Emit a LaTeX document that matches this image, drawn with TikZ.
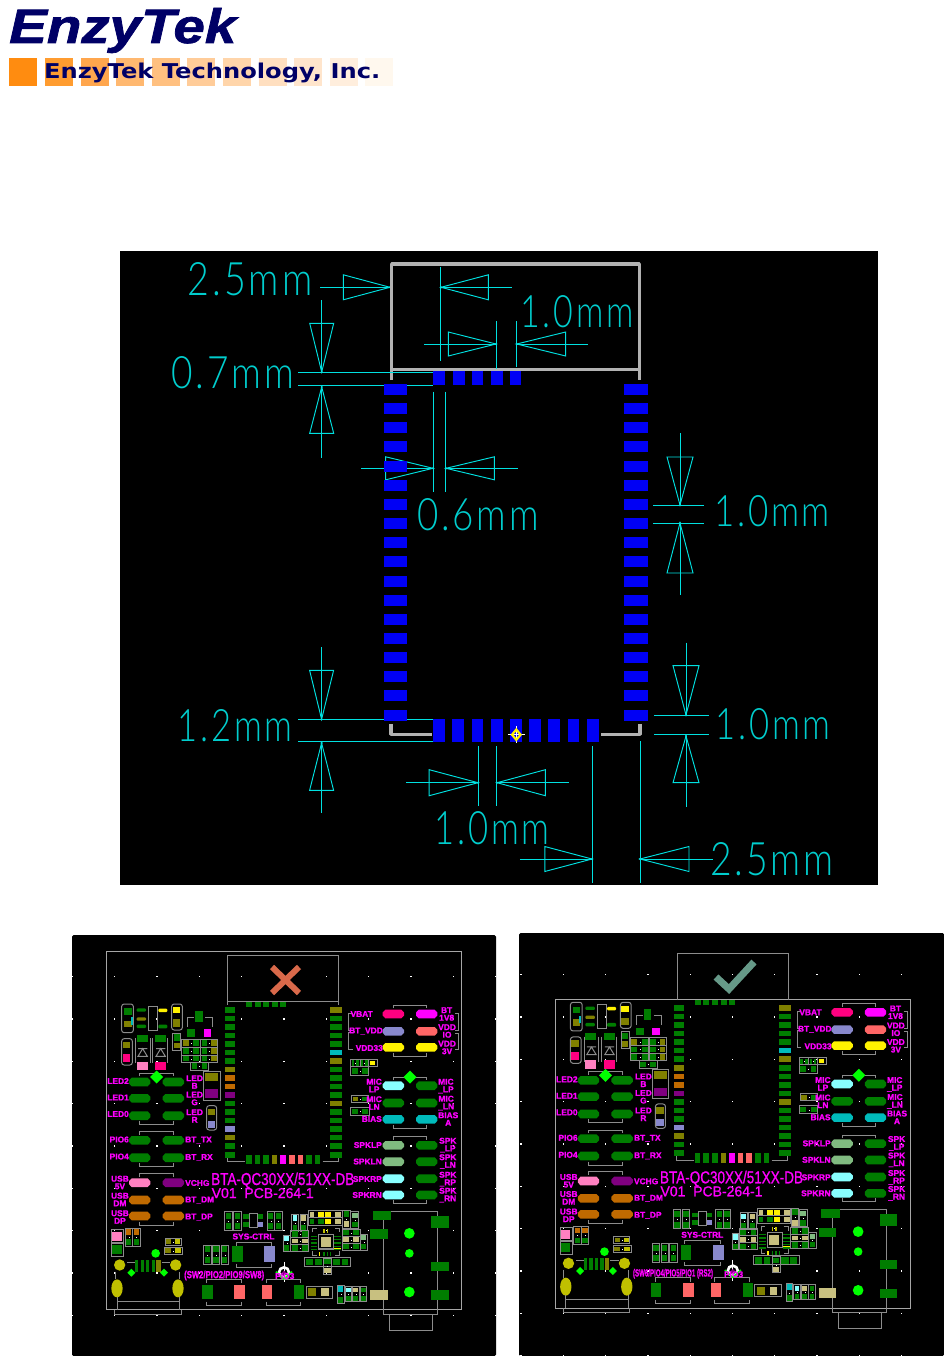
\documentclass[tikz,border=0pt]{standalone}
\usepackage{fontspec}
\usepackage{graphicx}
\setmainfont{Liberation Sans}
\newfontfamily\cadfont{Lato}[UprightFont=* Light,LetterSpace=8]
\newfontfamily\wide{DejaVu Sans}
\newfontfamily\labf{Liberation Sans}[UprightFont=* Bold,FakeBold=1.2]
\newfontfamily\titlef{Liberation Sans}[FakeBold=1.0]
\newfontfamily\logof{Liberation Sans}[UprightFont=* Bold Italic,FakeBold=1.4]
\definecolor{navy}{HTML}{000066}
\definecolor{cadc}{HTML}{00E0E0}
\definecolor{cadt}{HTML}{00CDCD}
\definecolor{padb}{HTML}{0000F5}
\definecolor{gr}{HTML}{007D00}
\definecolor{ol}{HTML}{808000}
\definecolor{org}{HTML}{C06A00}
\definecolor{pur}{HTML}{800080}
\definecolor{bb}{HTML}{8888CC}
\definecolor{cy}{HTML}{00BBBB}
\definecolor{lc}{HTML}{88FFFF}
\definecolor{hp}{HTML}{FF0080}
\definecolor{lp}{HTML}{FF80C0}
\definecolor{sal}{HTML}{FF6666}
\definecolor{tan1}{HTML}{C8C080}
\definecolor{lg}{HTML}{80BB80}
\definecolor{yo}{HTML}{C0C000}
\definecolor{bg}{HTML}{00FF00}
\definecolor{magenta}{HTML}{FF00FF}
\newcounter{lbn}
\tikzset{
  x=1pt,y=-1pt,
  cadl/.style={draw=cadc,line width=0.95pt},
  gl/.style={draw=black!45,line width=1pt},
  gl2/.style={draw=black!35,line width=1pt},
  lbs/.style={text=magenta,font=\fontsize{8.4}{7.6}\labf,inner sep=0pt,align=center},
  cadn/.style={text=cadt,inner sep=0pt}
}
% helpers
\newcommand{\pd}[5]{\fill[#1] (#2,#3) rectangle (#4,#5);}
\newcommand{\gb}[4]{\draw[gl] (#1,#2) rectangle (#3,#4);}
\newcommand{\brk}[4]{\draw[gl] (#1,#3+#4) -- (#1,#3) -- (#2,#3) -- (#2,#3+#4);}
\newcommand{\pl}[3]{\fill[#1] (#2-10.7,#3-1.5) -- (#2-8,#3-4.3) -- (#2+8,#3-4.3) -- (#2+10.7,#3-1.5) -- (#2+10.7,#3+1.5) -- (#2+8,#3+4.3) -- (#2-8,#3+4.3) -- (#2-10.7,#3+1.5) -- cycle;}
\newcommand{\cps}[4]{\draw[gl,rounded corners=2.5pt] (#1,#2) rectangle (#3,#4);}
\newcommand{\lb}[4]{\stepcounter{lbn}\node[lbs,anchor=#3] (lab\arabic{lbn}) at (#1,#2) {#4};}
\newcommand{\vres}[6]{\gb{#1}{#2}{#3}{#4}
  \pd{#5}{#1+3}{#2+3}{#3-3}{#2*0.62+#4*0.38}
  \pd{#6}{#1+3}{#2*0.38+#4*0.62}{#3-3}{#4-3}
  \fill[white] ({(#1+#3)/2-0.4},{(#2+#4)/2-0.4}) rectangle +(0.8,0.8);}
\newcommand{\hres}[6]{\gb{#1}{#2}{#3}{#4}
  \pd{#5}{#1+3}{#2+3}{#1*0.62+#3*0.38}{#4-3}
  \pd{#6}{#1*0.38+#3*0.62}{#2+3}{#3-3}{#4-3}
  \fill[white] ({(#1+#3)/2-0.4},{(#2+#4)/2-0.4}) rectangle +(0.8,0.8);}
\newcommand{\ha}[4]{\draw[cadl] (#1,#3) -- (#2,#3-#4) -- (#2,#3+#4) -- cycle; \fill[cadc] (#1,#3) circle (1.2);}
\newcommand{\va}[4]{\draw[cadl] (#3,#1) -- (#3-#4,#2) -- (#3+#4,#2) -- cycle; \fill[cadc] (#3,#1) circle (1.2);}
\newcommand{\oct}[4]{\fill[#1] (#2,#3) circle (#4);}
\newcommand{\dia}[4]{\fill[#1] (#2-#4,#3) -- (#2,#3-#4) -- (#2+#4,#3) -- (#2,#3+#4) -- cycle;}
% board contents in left-panel coordinates
\newcommand{\boardbody}[1]{%
  % module pads
  \foreach \c [count=\i from 0] in {gr,gr,gr,gr,gr,gr,gr,ol,org,org,pur,gr,gr,gr,bb,ol,gr,gr}
    {\pd{\c}{224.7}{1007+8.53*\i}{235}{1012.5+8.53*\i}}
  \foreach \c [count=\i from 0] in {ol,gr,gr,gr,gr,cy,ol,gr,gr,gr,gr,ol,gr,gr,gr,gr,gr,gr}
    {\pd{\c}{330.3}{1007+8.53*\i}{341.7}{1012.5+8.53*\i}}
  \foreach \c [count=\i from 0] in {gr,gr,gr,ol,magenta,sal,sal,gr,gr}
    {\pd{\c}{246+8.6*\i}{1155}{251.6+8.6*\i}{1164.3}}
  \foreach \i in {0,...,4} {\pd{gr}{246+8.6*\i}{1002}{252+8.6*\i}{1007}}
  \draw[gl] (227.3,1158) -- (227.3,1161.7) -- (245,1161.7);
  \draw[gl] (322.7,1161.7) -- (338.7,1161.7) -- (338.7,1158);
  % pill rows, left group
  \foreach \yy/\ca/\cb in {1082/gr/gr,1098.3/gr/gr,1115.7/gr/gr,1140.3/gr/gr,1157.7/gr/gr,1182.7/lp/pur,1200/org/org,1216/org/org}
    {\pl{\ca}{139.7}{\yy}\pl{\cb}{173.3}{\yy}}
  \brk{139.3}{173.3}{1073.3}{3}
  \brk{139.3}{173.3}{1124}{-3.3}
  \brk{139.3}{173.3}{1131.7}{3.3}
  \brk{139.3}{173.3}{1166.7}{-3.5}
  \brk{139.3}{173.3}{1173.3}{3.3}
  \brk{139.3}{173.3}{1225}{-3.3}
  \dia{bg}{156.7}{1077}{6.5}
  % pill rows, right group
  \foreach \yy/\ca/\cb in {1014/hp/magenta,1031.3/bb/sal,1047.3/yellow/yellow,1085.7/lc/gr,1103/gr/gr,1119.3/cy/cy,1145.3/lg/gr,1161.7/lg/gr,1178.7/lc/gr,1195/lc/gr}
    {\pl{\ca}{393.3}{\yy}\pl{\cb}{426.7}{\yy}}
  \brk{393.3}{426.7}{1005}{3.3}
  \brk{393.3}{426.7}{1056}{-3.3}
  \brk{393.3}{426.7}{1077}{3}
  \brk{393.3}{426.7}{1128.3}{-3.3}
  \brk{393.3}{426.7}{1136.7}{3.3}
  \brk{393.3}{426.7}{1203.3}{-3.5}
  \dia{bg}{410}{1077}{6.5}
  \draw[gl] (352.5,1013.5) -- (348.3,1013.5) -- (348.3,1030) -- (352.5,1030);
  \draw[gl] (352.5,1032.5) -- (348.3,1032.5) -- (348.3,1049) -- (352.5,1049);
  \draw[gl] (455,1013.5) -- (458.7,1013.5) -- (458.7,1030) -- (455,1030);
  \draw[gl] (455,1033.5) -- (458.7,1033.5) -- (458.7,1049) -- (455,1049);
  % upper-left parts (zoom frame)
  \begin{scope}[shift={(70,930)},scale=1/3]
    \cps{155}{222}{190}{308}
    \pd{gr}{162}{235}{185}{255} \pd{ol}{162}{272}{185}{292} \pd{cy}{182}{262}{188}{285}
    \foreach \yy/\cc in {240/gr,267/ol,289/gr}{\fill[\cc,rounded corners=1pt] (200,\yy-5) rectangle (228,\yy+5);}
    \gb{235}{228}{262}{300}
    \fill[yellow,rounded corners=1pt] (265,236) rectangle (292,246);
    \fill[gr,rounded corners=1pt] (265,284) rectangle (292,295);
    \cps{305}{222}{337}{300}
    \pd{yellow}{308}{232}{330}{250} \pd{ol}{308}{268}{330}{290}
    \cps{155}{326}{187}{405}
    \pd{ol}{158}{335}{181}{355} \pd{hp}{158}{372}{181}{395}
    \pd{gr}{200}{314}{233}{335} \pd{gr}{255}{314}{288}{335}
    \draw[gl] (197,325) -- (197,400) (240,325) -- (240,400) (247,325) -- (247,400) (292,325) -- (292,400);
    \foreach \cx in {218,272}{\draw[gl] (\cx-14,379) -- (\cx+14,379) -- (\cx,356) -- cycle (\cx-14,356) -- (\cx+14,356);}
    \pd{lp}{200}{395}{233}{421} \pd{hp}{256}{395}{289}{421}
    \gb{308}{310}{332}{360}
    \pd{gr}{311}{313}{329}{332} \pd{ol}{311}{338}{329}{355}
    \pd{gr}{375}{243}{398}{275}
    \draw[gl] (353,290) -- (353,262) -- (372,262) (405,262) -- (427,262) -- (427,290);
    \pd{gr}{352}{298}{375}{320} \pd{magenta}{401}{298}{424}{320}
    \hres{335}{328}{390}{352}{ol}{gr} \hres{392}{328}{443}{352}{gr}{ol}
    \hres{335}{352}{390}{375}{gr}{gr} \hres{392}{352}{443}{375}{gr}{ol}
    \hres{335}{375}{390}{397}{gr}{gr} \hres{392}{375}{443}{397}{gr}{ol}
    \hres{362}{397}{415}{420}{gr}{gr}
    \gb{401}{425}{450}{510}
    \pd{ol}{405}{428}{445}{452} \pd{pur}{405}{478}{445}{503}
    \cps{410}{527}{440}{600}
    \pd{ol}{413}{536}{436}{556} \pd{bb}{413}{573}{436}{593}
  \end{scope}
  % upper-right small parts
  \begin{scope}[shift={(280,930)},scale=1/3]
    \hres{212}{388}{240}{410}{gr}{gr}\hres{240}{388}{266}{410}{gr}{gr}
    \gb{266}{388}{292}{410}\pd{yellow}{271}{392}{286}{404}
    \hres{212}{410}{266}{435}{gr}{gr}
    \hres{215}{497}{265}{517}{ol}{gr}
    \hres{212}{533}{267}{555}{gr}{gr}
  \end{scope}
  % lower-left parts
  \begin{scope}[shift={(70,1140)},scale=1/3]
    \gb{125}{268}{160}{308}\pd{lp}{127}{275}{155}{302}
    \gb{125}{310}{160}{348}\pd{gr}{127}{315}{155}{342}
    \vres{165}{265}{187}{318}{org}{gr}\vres{188}{265}{210}{318}{org}{gr}
    \hres{285}{295}{333}{315}{ol}{yo}
    \hres{283}{322}{337}{342}{ol}{yo}
    \oct{bg}{257}{340}{13}
    \dia{bg}{184}{398}{12}\dia{bg}{282}{398}{12}
    \oct{yo}{149}{375}{17}\oct{yo}{317}{375}{17}
    \fill[yo] (141,445) ellipse (17 and 27);
    \fill[yo] (324,445) ellipse (17 and 27);
    \foreach \xa/\xb/\cc in {196/204/gr,212/222/gr,228/237/gr,245/255/gr,258/272/ol}{\pd{\cc}{\xa}{360}{\xb}{395}}
    \draw[gl] (172,368) -- (195,368) (275,368) -- (300,368) (135,395) -- (135,418) (328,395) -- (328,418);
    \draw[gl] (141,470) -- (141,510) (328,470) -- (328,510) (141,485) -- (328,485);
    \draw[gl] (133,510) -- (133,523) -- (333,523) -- (333,510);
  \end{scope}
  % centre parts
  \begin{scope}[shift={(180,1205)},scale=1/3]
    \vres{134}{20}{156}{76}{gr}{gr}\vres{161}{20}{183}{76}{gr}{gr}
    \pd{gr}{190}{28}{208}{42}\pd{gr}{232}{28}{250}{42}\pd{gr}{190}{50}{208}{66}\pd{bb}{232}{50}{250}{66}
    \gb{208}{25}{232}{68}
    \vres{261}{20}{283}{76}{gr}{gr}\vres{284}{20}{306}{76}{gr}{gr}
    \vres{71}{121}{93}{177}{gr}{gr}\vres{97}{121}{119}{177}{gr}{gr}\vres{123}{121}{145}{177}{gr}{gr}
    \pd{gr}{156}{124}{188}{170}\pd{bb}{253}{124}{285}{170}
    \brk{168}{275}{112}{10}\brk{168}{275}{186}{-10}
    \vres{335}{28}{355}{78}{lc}{gr}\vres{360}{28}{382}{78}{tan1}{gr}
    \vres{310}{90}{330}{140}{lc}{gr}
    \hres{332}{76}{386}{98}{gr}{gr}\hres{332}{98}{386}{118}{tan1}{tan1}\hres{332}{118}{386}{140}{gr}{gr}
    \gb{386}{15}{486}{38}\gb{386}{38}{486}{60}
    \foreach \xa/\xb/\ca/\cb in {390/402/tan1/gr,414/432/yellow/gr,436/454/yellow/yellow,465/483/tan1/tan1}
      {\pd{\ca}{\xa}{20}{\xb}{35}\pd{\cb}{\xa}{42}{\xb}{56}}
    \vres{488}{15}{510}{70}{gr}{tan1}\vres{512}{20}{536}{70}{lg}{gr}
    \hres{486}{72}{540}{94}{gr}{gr}\hres{486}{94}{540}{114}{tan1}{tan1}\hres{486}{114}{540}{136}{gr}{gr}
    \vres{540}{88}{562}{135}{lg}{gr}
    \draw[gl] (398,82) -- (398,70) -- (410,70) (465,70) -- (478,70) -- (478,82) (398,138) -- (398,150) -- (410,150) (465,150) -- (478,150) -- (478,138);
    \draw[gl,line width=1.2pt] (415,88) rectangle (460,132);
    \pd{tan1}{422}{95}{452}{125}
    \foreach \yy in {92,102,112,122,132}{\pd{gr}{392}{\yy}{412}{\yy+4}\pd{gr}{463}{\yy}{483}{\yy+4}}
    \pd{yellow}{463}{128}{483}{132}
    \foreach \xx/\cc in {430/yo,440/yo}{\pd{\cc}{\xx}{72}{\xx+4}{84}}
    \foreach \xx/\cc in {416/yellow,430/gr,440/gr,450/gr}{\pd{\cc}{\xx}{142}{\xx+4}{154}}
    \gb{373}{158}{512}{185}
    \pd{gr}{378}{162}{400}{181}\pd{gr}{405}{162}{425}{181}\pd{gr}{458}{162}{480}{181}\pd{gr}{485}{162}{505}{181}
    \vres{430}{160}{455}{208}{gr}{tan1}
    \pd{gr}{67}{240}{98}{282}\pd{sal}{163}{240}{195}{282}\pd{sal}{246}{240}{276}{282}\pd{gr}{343}{240}{373}{282}
    \brk{80}{185}{223}{12}\brk{80}{185}{302}{-12}
    \brk{258}{362}{223}{12}\brk{258}{362}{302}{-12}
    \gb{378}{243}{458}{281}
    \pd{ol}{384}{250}{408}{274}\pd{tan1}{424}{250}{446}{274}
    \vres{472}{240}{492}{296}{cy}{gr}\vres{495}{245}{515}{290}{lc}{gr}
    \vres{517}{245}{538}{290}{tan1}{gr}\vres{540}{245}{560}{290}{gr}{gr}
    \draw[white,line width=0.8pt] (312,170) -- (312,232);
    \draw[white,line width=2.6pt] (312,202) circle (15);
    \dia{pur}{312}{204}{7}
    \draw[bg,line width=1.6pt] (288,200) -- (312,222) -- (336,200);
  \end{scope}
  % jack
  \begin{scope}[shift={(280,1140)},scale=1/3]
    \gb{310}{215}{472}{523}
    \gb{328}{523}{457}{572}
    \pd{gr}{278}{212}{333}{240}\pd{gr}{270}{268}{323}{297}
    \pd{gr}{454}{228}{506}{263}\pd{gr}{454}{365}{506}{393}\pd{gr}{454}{451}{506}{480}
    \pd{tan1}{270}{450}{323}{480}
    \oct{bg}{388}{280}{16}\oct{bg}{388}{340}{13}\oct{bg}{388}{456}{16}
  \end{scope}
  % labels
  \lb{129}{1081}{east}{LED2}\lb{129}{1097.5}{east}{LED1}\lb{129}{1114}{east}{LED0}
  \lb{129}{1139.5}{east}{PIO6}\lb{129}{1156.5}{east}{PIO4}
  \lb{129}{1182.5}{east}{USB\\5V}\lb{129}{1199.5}{east}{USB\\DM}\lb{129}{1217}{east}{USB\\DP}
  \lb{185}{1140}{west}{BT\_TX}\lb{185}{1157.5}{west}{BT\_RX}\lb{185}{1183}{west}{VCHG}
  \lb{185}{1200}{west}{BT\_DM}\lb{185}{1217}{west}{BT\_DP}
  \lb{186}{1082}{west}{LED\\B}\lb{186}{1098.5}{west}{LED\\G}\lb{186}{1116}{west}{LED\\R}
  \lb{373}{1014}{east}{VBAT}\lb{383}{1031}{east}{BT\_VDD}\lb{383}{1048}{east}{VDD33}
  \lb{439}{1014}{west}{BT\\1V8}\lb{438}{1031}{west}{VDD\\IO}\lb{438}{1047.5}{west}{VDD\\3V}
  \lb{382}{1085.5}{east}{MIC\\LP}\lb{382}{1103}{east}{MIC\\LN}\lb{382}{1119}{east}{BIAS}
  \lb{438}{1086}{west}{MIC\\\_LP}\lb{438}{1103}{west}{MIC\\\_LN}\lb{438}{1119}{west}{BIAS\\A}
  \lb{382}{1145}{east}{SPKLP}\lb{382}{1161.5}{east}{SPKLN}\lb{382}{1179}{east}{SPKRP}\lb{382}{1195}{east}{SPKRN}
  \lb{439}{1145}{west}{SPK\\\_LP}\lb{439}{1161.5}{west}{SPK\\\_LN}\lb{439}{1179}{west}{SPK\\\_RP}\lb{439}{1195}{west}{SPK\\\_RN}
  \lb{253.5}{1236.5}{center}{SYS-CTRL}
  \lb{184}{1275.5}{west}{\resizebox{80pt}{7.5pt}{#1}}
  \lb{275}{1276}{west}{PIO3}
  \lb{211}{1185}{base west}{\resizebox{143pt}{12.5pt}{\titlef BTA-QC30XX/51XX-DB}}
  \lb{211.5}{1198}{base west}{\resizebox{102pt}{10pt}{\titlef V01\ \ PCB-264-1}}
}
\begin{document}
\begin{tikzpicture}
\useasboundingbox (0,0) rectangle (944,1356);
\fill[white] (0,0) rectangle (944,1356);
% logo
\foreach \c [count=\i from 0] in {FF8C10,FF9C30,FFA64D,FFB870,FFC080,FFCC99,FFD5AA,FFDFC0,FFE5CC,FFEEDD,FFF8EE}
  {\definecolor{sq}{HTML}{\c}\fill[sq] (9.3+35.6*\i,58.3) rectangle (37.3+35.6*\i,86);}
\node[anchor=base west,inner sep=0pt,text=navy] (logoa) at (9,43) {\resizebox{227pt}{35pt}{\logof EnzyTek}};
\node[anchor=base west,inner sep=0pt,text=navy] (logob) at (44,78.5) {\resizebox{336pt}{15.5pt}{\wide\bfseries EnzyTek Technology, Inc.}};
% top CAD panel
\fill[black] (120,251) rectangle (878,885);
\begin{scope}
\clip (120,251) rectangle (878,885);
% dimension lines
\draw[cadl] (320,287.3) -- (391,287.3) (440,266.7) -- (440,360.7) (441,287.3) -- (512.3,287.3);
\ha{390}{343.3}{287.3}{12.5}\ha{441}{488.3}{287.3}{12.5}
\draw[cadl] (496.7,321) -- (496.7,367.3) (516,321) -- (516,367.3) (424.3,344) -- (496,344) (516.7,344) -- (588.3,344);
\ha{496}{448.3}{344}{12}\ha{516.7}{565.7}{344}{12}
\draw[cadl] (298.3,372.3) -- (433,372.3) (298.3,385.7) -- (433,385.7) (321.7,300) -- (321.7,372.3) (321.7,386) -- (321.7,457.7);
\va{372}{323.3}{321.7}{12}\va{387}{433.3}{321.7}{12}
\draw[cadl] (433.3,391.7) -- (433.3,491.7) (445.7,391.7) -- (445.7,491.7) (361.3,468.3) -- (433,468.3) (446,468.3) -- (517.7,468.3);
\ha{433}{385.7}{468.3}{11.5}\ha{446}{494.3}{468.3}{11.5}
\draw[cadl] (653,505) -- (704,505) (653,523) -- (704,523) (680,433) -- (680,505) (680,523) -- (680,595);
\va{505}{457}{680}{13}\va{523}{573}{680}{13}
\draw[cadl] (298.4,719.3) -- (433,719.3) (298.4,741.3) -- (433,741.3) (321.6,647.3) -- (321.6,719.3) (321.6,743) -- (321.6,813.3);
\va{719.3}{670.3}{321.6}{12}\va{743}{790.3}{321.6}{12}
\draw[cadl] (654,715) -- (709,715) (654,734.7) -- (709,734.7) (686,642.7) -- (686,715) (686,736) -- (686,806.7);
\va{715}{665.7}{686}{13}\va{736}{782.7}{686}{13}
\draw[cadl] (478.3,746) -- (478.3,805.7) (496.6,746) -- (496.6,805.7) (406,782.7) -- (478,782.7) (497,782.7) -- (568.5,782.7);
\ha{478}{429.2}{782.7}{13}\ha{497}{545.3}{782.7}{13}
\draw[cadl] (592,746) -- (592,883) (640,741) -- (640,883) (519.8,859) -- (592,859) (640,859) -- (712.7,859);
\ha{592}{544.8}{859}{12.5}\ha{640}{689}{859}{12.5}
% board outline
\draw[black!30,line width=3.5pt,line join=round] (391.7,380) -- (391.7,264) -- (639.3,264) -- (639.3,380) (391.7,369.3) -- (639.3,369.3);
\draw[black!30,line width=3.5pt,line join=round] (391.2,724.3) -- (391.2,734.3) -- (432,734.3) (601,734.3) -- (640,734.3) -- (640,724.3);
% pads
\foreach \i in {0,...,17} {
  \fill[padb] (384,384+19.15*\i) rectangle (407.3,395+19.15*\i);
  \fill[padb] (624.3,384+19.15*\i) rectangle (647.5,395+19.15*\i);
}
\foreach \xa/\xb in {433.3/445.3,452.7/465,472/483.3,491/503,510.3/521.3} {\fill[padb] (\xa,371) rectangle (\xb,385);}
\foreach \i in {0,...,8} {\fill[padb] (433.2+19.2*\i,719.3) rectangle (444.9+19.2*\i,741.7);}
\draw[cadc,line width=0.9pt] (496.7,367.3) -- (496.7,369) (298.3,372.3) -- (433,372.3);
% target marker
\draw[white,line width=0.7pt] (508,734.7) -- (525,734.7) (516.3,726) -- (516.3,743);
\draw[yellow,line width=2.2pt] (516.3,729.5) -- (520.6,734.7) -- (516.3,739.9) -- (512,734.7) -- cycle;
\end{scope}
% dimension labels
\node[cadn] (d1) at (250,279) {\resizebox{125pt}{33pt}{\cadfont 2.5mm}};
\node[cadn] (d2) at (232.5,373) {\resizebox{123pt}{32pt}{\cadfont 0.7mm}};
\node[cadn] (d3) at (577,312) {\resizebox{113pt}{32pt}{\cadfont 1.0mm}};
\node[cadn] (d4) at (478,515) {\resizebox{122pt}{32pt}{\cadfont 0.6mm}};
\node[cadn] (d5) at (772,511) {\resizebox{116pt}{31pt}{\cadfont 1.0mm}};
\node[cadn] (d6) at (235,726) {\resizebox{115pt}{32pt}{\cadfont 1.2mm}};
\node[cadn] (d7) at (773,724) {\resizebox{115pt}{31pt}{\cadfont 1.0mm}};
\node[cadn] (d8) at (492,828) {\resizebox{115pt}{33pt}{\cadfont 1.0mm}};
\node[cadn] (d9) at (772,859) {\resizebox{124pt}{33pt}{\cadfont 2.5mm}};
% left board panel
\fill[black,rounded corners=1.5pt] (72,935) rectangle (496,1356);
\foreach \i in {0,...,10}\foreach \j in {0,...,10}{\fill[white] (71.8+42.3*\i,933.8+42.3*\j) rectangle +(1.3,1.3);}
\draw[gl2] (106,951) rectangle (461.7,1309);
\draw[gl] (227.3,955.3) rectangle (338.7,1001.3);
\draw[gl] (338.7,1001.3) -- (338.7,1005);
\draw[gl] (227.3,1001.3) -- (227.3,1005);
\draw[color={rgb,255:red,217;green,105;blue,74},line width=6pt] (272,967) -- (299,993) (299,967) -- (272,993);
\boardbody{(SW2/PIO2/PIO9/SW8)}
% right board panel
\fill[black,rounded corners=1.5pt] (519,933) rectangle (944,1356);
\foreach \i in {0,...,9}\foreach \j in {0,...,10}{\fill[white] (520.3+42.3*\i,931.8+42.3*\j) rectangle +(1.3,1.3);}
\draw[gl2] (555,999.5) rectangle (910.5,1308);
\draw[gl] (677,1000) -- (677,953) -- (788,953) -- (788,1000);
\draw[color={rgb,255:red,102;green,153;blue,136},line width=7pt] (716,977) -- (729,989) -- (754,962);
\begin{scope}[shift={(448.8,-1.7)}]
\boardbody{(SW6/PIO4/PIO5/PIO1 (RS2)}
\end{scope}
\end{tikzpicture}
\end{document}
